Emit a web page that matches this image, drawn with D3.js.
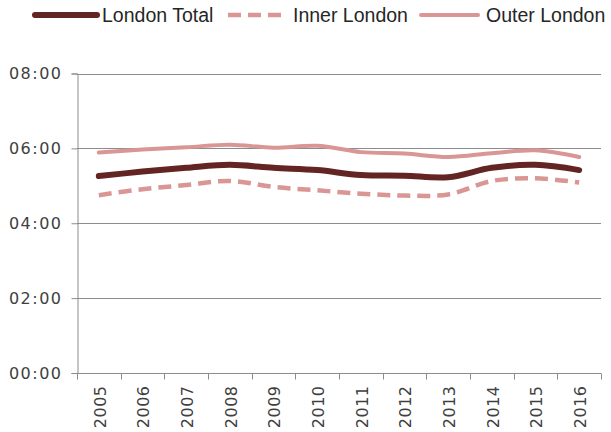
<!DOCTYPE html>
<html>
<head>
<meta charset="utf-8">
<script src="https://cdn.jsdelivr.net/npm/d3@7"></script>
<style>
  body { margin: 0; background: #fff; }
  svg { display: block; }
</style>
</head>
<body>
<div id="chart"></div>
<script>
const width = 611;
const height = 432;
const margin = { top: 73.5, right: 10, bottom: 59, left: 77 };

// Years along the x axis
const years = ["2005", "2006", "2007", "2008", "2009", "2010", "2011", "2012", "2013", "2014", "2015", "2016"];

// Values in hours
const londonTotal = [5.26, 5.38, 5.48, 5.56, 5.48, 5.42, 5.29, 5.27, 5.23, 5.48, 5.56, 5.42];
const innerLondon = [4.75, 4.91, 5.02, 5.13, 4.97, 4.88, 4.79, 4.74, 4.77, 5.13, 5.20, 5.09];
const outerLondon = [5.89, 5.97, 6.03, 6.10, 6.02, 6.07, 5.90, 5.86, 5.77, 5.87, 5.95, 5.77];

const yTicks = [0, 2, 4, 6, 8];

const darkRed = "#632523";
const pink = "#d99694";

const series = [
  { name: "London Total", values: londonTotal, color: darkRed, width: 6, dash: null },
  { name: "Inner London", values: innerLondon, color: pink, width: 4.5, dash: "13,7" },
  { name: "Outer London", values: outerLondon, color: pink, width: 4, dash: null }
];

const svg = d3.select("#chart").append("svg")
  .attr("width", width)
  .attr("height", height);

const x = d3.scaleBand()
  .domain(years)
  .range([margin.left, width - margin.right])
  .padding(0);

const y = d3.scaleLinear()
  .domain([0, 8])
  .range([height - margin.bottom, margin.top]);

const fmt = d => String(d).padStart(2, "0") + ":00";

// gridlines
svg.append("g")
  .selectAll("line")
  .data(yTicks.filter(d => d > 0))
  .join("line")
    .attr("x1", margin.left)
    .attr("x2", width - margin.right)
    .attr("y1", d => Math.round(y(d)) + 0.5)
    .attr("y2", d => Math.round(y(d)) + 0.5)
    .attr("stroke", "#8c8c8c")
    .attr("stroke-width", 1);

// y axis
const yAxis = svg.append("g")
  .attr("transform", `translate(${margin.left + 0.5},0)`)
  .call(d3.axisLeft(y).tickValues(yTicks).tickFormat(fmt).tickSize(6).tickPadding(9));
yAxis.select(".domain").attr("stroke", "#8c8c8c");
yAxis.selectAll(".tick line").attr("stroke", "#8c8c8c");
yAxis.selectAll(".tick text")
  .style("font-family", "DejaVu Sans, sans-serif")
  .style("font-size", "16px")
  .style("letter-spacing", "1.5px")
  .attr("fill", "#404040");

// x axis with ticks at band edges
const xAxis = svg.append("g")
  .attr("transform", `translate(0,${Math.round(y(0)) + 0.5})`);
xAxis.append("line")
  .attr("x1", margin.left)
  .attr("x2", width - margin.right)
  .attr("stroke", "#8c8c8c");
const edges = years.map(d => x(d)).concat([x(years[years.length - 1]) + x.bandwidth()]);
xAxis.selectAll(".edge")
  .data(edges)
  .join("line")
    .attr("class", "edge")
    .attr("x1", d => Math.round(d) + 0.5)
    .attr("x2", d => Math.round(d) + 0.5)
    .attr("y1", 0)
    .attr("y2", 6)
    .attr("stroke", "#8c8c8c");
xAxis.selectAll(".year")
  .data(years)
  .join("text")
    .attr("class", "year")
    .attr("transform", d => `translate(${x(d) + x.bandwidth() / 2 + 1},12) rotate(-90)`)
    .attr("text-anchor", "end")
    .attr("dy", "0.36em")
    .style("font-family", "DejaVu Sans, sans-serif")
    .style("font-size", "16px")
    .style("letter-spacing", "0.5px")
    .attr("fill", "#404040")
    .text(d => d);

// lines
const line = d3.line()
  .x((d, i) => x(years[i]) + x.bandwidth() / 2)
  .y(d => y(d))
  .curve(d3.curveCatmullRom.alpha(0.5));

// draw outer, inner first so total sits on top
[series[2], series[1], series[0]].forEach(s => {
  svg.append("path")
    .datum(s.values)
    .attr("d", line)
    .attr("fill", "none")
    .attr("stroke", s.color)
    .attr("stroke-width", s.width)
    .attr("stroke-linejoin", "round")
    .attr("stroke-linecap", s.dash ? "butt" : "round")
    .attr("stroke-dasharray", s.dash);
});

// legend
const legendItems = [
  { s: series[0], x1: 35, x2: 97, tx: 102 },
  { s: series[1], x1: 228, x2: 282, tx: 293 },
  { s: series[2], x1: 421, x2: 478, tx: 486 }
];
const legend = svg.append("g");
legendItems.forEach(it => {
  legend.append("line")
    .attr("x1", it.x1)
    .attr("x2", it.x2)
    .attr("y1", 15)
    .attr("y2", 15)
    .attr("stroke", it.s.color)
    .attr("stroke-width", it.s.width)
    .attr("stroke-linecap", it.s.dash ? "butt" : "round")
    .attr("stroke-dasharray", it.s.dash);
  legend.append("text")
    .attr("x", it.tx)
    .attr("y", 15)
    .attr("dy", "0.36em")
    .style("font-family", "Liberation Sans, Arial, sans-serif")
    .style("font-size", "19.5px")
    .attr("fill", "#262626")
    .text(it.s.name);
});
</script>
</body>
</html>
